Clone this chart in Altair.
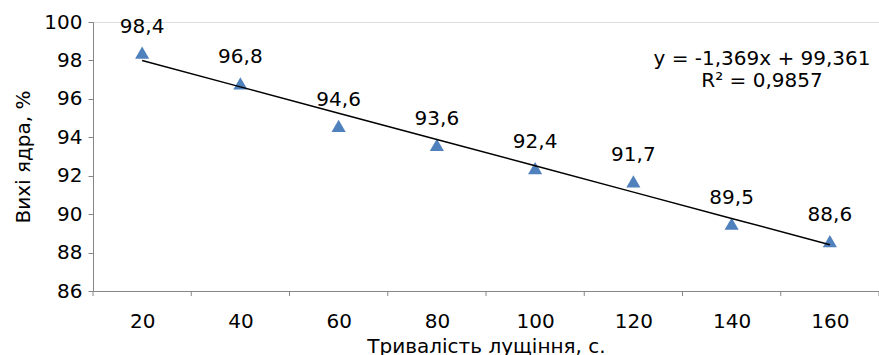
import altair as alt
import numpy as np
import pandas as pd

durations = [20, 40, 60, 80, 100, 120, 140, 160]
kernel_yield = [98.4, 96.8, 94.6, 93.6, 92.4, 91.7, 89.5, 88.6]
y_ticks = [86, 88, 90, 92, 94, 96, 98, 100]
x_tick_marks = [10, 30, 50, 70, 90, 110, 130, 150, 170]

idx = np.arange(1, len(durations) + 1)
slope, intercept = np.polyfit(idx, kernel_yield, 1)
fit = slope * idx + intercept
ss_res = np.sum((np.array(kernel_yield) - fit) ** 2)
ss_tot = np.sum((np.array(kernel_yield) - np.mean(kernel_yield)) ** 2)
r2 = 1 - ss_res / ss_tot

df = pd.DataFrame({
    "x": durations,
    "y": kernel_yield,
    "fit": fit,
    "label": [f"{v:.1f}".replace(".", ",") for v in kernel_yield],
})
ticks_df = pd.DataFrame({"x": x_tick_marks})

eq_line1 = f"y = {slope:.3f}x + {intercept:.3f}".replace(".", ",")
eq_line2 = f"R² = {r2:.4f}".replace(".", ",")
eq_df1 = pd.DataFrame({"t": [eq_line1]})
eq_df2 = pd.DataFrame({"t": [eq_line2]})

FONT = "DejaVu Sans"
FS = 20
AX = "#868686"

xscale = alt.Scale(domain=[10, 170], nice=False, zero=False)
xaxis = alt.Axis(
    title="Тривалість лущіння, с.", values=durations, ticks=False,
    grid=False, domainColor=AX, labelFlush=False, labelOverlap=False,
    labelFont=FONT, labelFontSize=FS, labelColor="black", labelPadding=20,
    titleFont=FONT, titleFontSize=FS, titleFontWeight="normal",
    titleColor="black", titlePadding=5,
)
yscale = alt.Scale(domain=[86, 100], nice=False, zero=False)
yaxis = alt.Axis(
    title="Вихі ядра, %", values=y_ticks, grid=False, labelOverlap=False,
    labelFlush=False,
    domainColor=AX, tickColor=AX, tickSize=5,
    labelFont=FONT, labelFontSize=FS, labelColor="black", labelPadding=6,
    titleFont=FONT, titleFontSize=FS, titleFontWeight="normal",
    titleColor="black", titlePadding=10,
)

base = alt.Chart(df)

pts = base.mark_point(shape="triangle-up", filled=True, color="#4F81BD",
                      opacity=1, size=200).encode(
    x=alt.X("x:Q", scale=xscale, axis=xaxis),
    y=alt.Y("y:Q", scale=yscale, axis=yaxis))

line = base.mark_line(color="black", strokeWidth=1.5).encode(
    x=alt.X("x:Q", scale=xscale, axis=xaxis),
    y=alt.Y("fit:Q", scale=yscale, axis=yaxis))

labels = base.mark_text(font=FONT, fontSize=FS, color="black",
                        baseline="middle", dy=-26).encode(
    x=alt.X("x:Q", scale=xscale, axis=xaxis),
    y=alt.Y("y:Q", scale=yscale, axis=yaxis), text="label:N")

xticks = alt.Chart(ticks_df).mark_rule(color=AX, strokeWidth=1).encode(
    x=alt.X("x:Q", scale=xscale, axis=xaxis),
    y=alt.value(269), y2=alt.value(274))

eq1 = alt.Chart(eq_df1).mark_text(font=FONT, fontSize=FS, color="black",
                                  align="center", baseline="middle").encode(
    x=alt.value(669), y=alt.value(37), text="t:N")
eq2 = alt.Chart(eq_df2).mark_text(font=FONT, fontSize=FS, color="black",
                                  align="center", baseline="middle").encode(
    x=alt.value(669), y=alt.value(59), text="t:N")

chart = alt.layer(pts, line, labels, xticks, eq1, eq2).properties(
    width=786, height=269,
    autosize=alt.AutoSizeParams(type="none"),
    padding={"left": 93, "top": 22, "right": 0, "bottom": 64},
).configure_view(stroke=None).configure(background="white")

chart.save("out.html", embed_options={"renderer": "svg", "actions": False})
